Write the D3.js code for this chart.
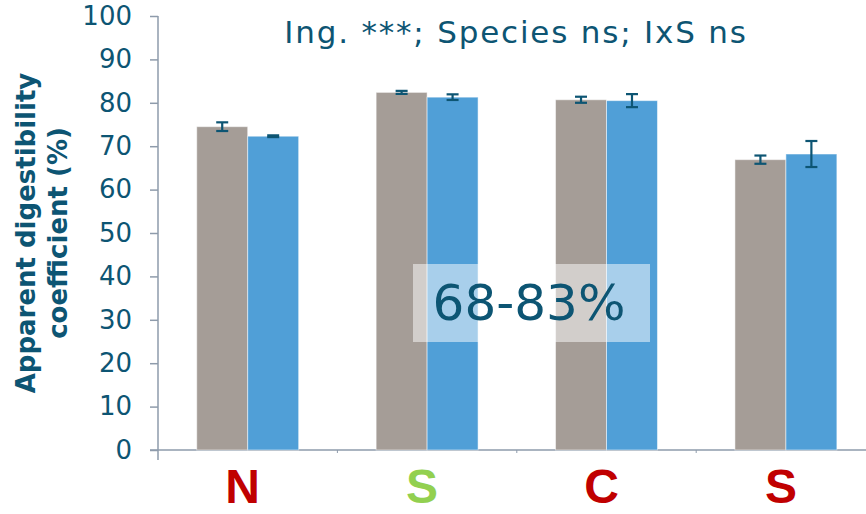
<!DOCTYPE html>
<html>
<head>
<meta charset="utf-8">
<script src="https://cdn.jsdelivr.net/npm/d3@7"></script>
<style>
  html, body { margin: 0; padding: 0; background: #fff; }
  svg { display: block; }
</style>
</head>
<body>
<svg id="chart" width="866" height="514"></svg>
<script>
// Ingredient categories along the x axis
const categories = ["N", "S", "C", "S"];
// Two species per ingredient
const series = ["Species A", "Species B"];
// Apparent digestibility coefficient (%) per category, per species
const valuesA = [74.5, 82.4, 80.7, 66.9];
const valuesB = [72.3, 81.3, 80.5, 68.2];
// Standard errors
const errorsA = [1.0, 0.35, 0.7, 0.95];
const errorsB = [0.2, 0.65, 1.5, 3.0];
// Y tick values
const yTicks = [0, 10, 20, 30, 40, 50, 60, 70, 80, 90, 100];

const title = "Ing. ***; Species ns; IxS ns";
const rangeNote = "68-83%";

const dark = "#0d5573";
const axisColor = "#8e9bab";
const seriesColors = ["#a59d97", "#509fd7"];
const labelColors = ["#c00000", "#92d050", "#c00000", "#c00000"];

const svg = d3.select("#chart");

const x = d3.scaleBand()
  .domain(d3.range(categories.length))
  .range([158, 875.6])
  .paddingInner(0).paddingOuter(0);

const xSub = d3.scaleBand()
  .domain(series)
  .range([0, x.bandwidth()])
  .paddingInner(0)
  .paddingOuter(0.76);

const y = d3.scaleLinear().domain([0, 100]).range([450, 16]);

// Y axis
const yAxis = svg.append("g")
  .attr("transform", "translate(158,0)")
  .call(d3.axisLeft(y).tickValues(yTicks).tickSize(8).tickPadding(18).tickSizeOuter(0));
yAxis.select(".domain").remove();
yAxis.selectAll(".tick line").attr("stroke", axisColor).attr("stroke-width", 1.5);
yAxis.selectAll(".tick text")
  .attr("fill", dark)
  .style("font-family", "'DejaVu Sans', Verdana, sans-serif")
  .style("font-size", "26px");
svg.append("line")
  .attr("x1", 158).attr("x2", 158)
  .attr("y1", y(100)).attr("y2", 460)
  .attr("stroke", axisColor).attr("stroke-width", 1.5);

// X axis
svg.append("line")
  .attr("x1", 150).attr("x2", 866)
  .attr("y1", y(0)).attr("y2", y(0))
  .attr("stroke", axisColor).attr("stroke-width", 1.5);
svg.append("g").selectAll("line")
  .data(d3.range(1, categories.length))
  .join("line")
  .attr("x1", i => x(i)).attr("x2", i => x(i))
  .attr("y1", y(0)).attr("y2", y(0) + 3)
  .attr("stroke", axisColor).attr("stroke-width", 1);

// Bars
const rows = categories.map((c, i) => ({
  i,
  vals: [
    { s: series[0], v: valuesA[i], e: errorsA[i], c: seriesColors[0] },
    { s: series[1], v: valuesB[i], e: errorsB[i], c: seriesColors[1] }
  ]
}));

const groups = svg.append("g").selectAll("g")
  .data(rows)
  .join("g")
  .attr("transform", d => `translate(${x(d.i)},0)`);

groups.selectAll("rect")
  .data(d => d.vals)
  .join("rect")
  .attr("x", d => xSub(d.s))
  .attr("width", xSub.bandwidth())
  .attr("y", d => y(d.v))
  .attr("height", d => y(0) - y(d.v))
  .attr("fill", d => d.c)
  .attr("stroke", "rgba(255,255,255,0.5)")
  .attr("stroke-width", 1);

// Error bars
const eb = groups.selectAll("g.err")
  .data(d => d.vals)
  .join("g")
  .attr("class", "err")
  .attr("stroke", dark)
  .attr("stroke-width", 2.2);
eb.append("line")
  .attr("x1", d => xSub(d.s) + xSub.bandwidth() / 2)
  .attr("x2", d => xSub(d.s) + xSub.bandwidth() / 2)
  .attr("y1", d => y(d.v + d.e))
  .attr("y2", d => y(d.v - d.e));
eb.selectAll("line.cap")
  .data(d => [d.v + d.e, d.v - d.e].map(v => ({ s: d.s, v })))
  .join("line")
  .attr("class", "cap")
  .attr("x1", d => xSub(d.s) + xSub.bandwidth() / 2 - 6)
  .attr("x2", d => xSub(d.s) + xSub.bandwidth() / 2 + 6)
  .attr("y1", d => y(d.v))
  .attr("y2", d => y(d.v));

// Category labels
svg.append("g").selectAll("text")
  .data(categories)
  .join("text")
  .attr("x", (d, i) => x(i) + x.bandwidth() / 2 - 5)
  .attr("y", 503)
  .attr("text-anchor", "middle")
  .attr("fill", (d, i) => labelColors[i])
  .style("font-family", "'Liberation Sans', Arial, sans-serif")
  .style("font-weight", "bold")
  .style("font-size", "48px")
  .text(d => d);

// Y axis title
const yt = svg.append("text")
  .attr("transform", "translate(0,233) rotate(-90)")
  .attr("text-anchor", "middle")
  .attr("fill", dark)
  .style("font-family", "'DejaVu Sans', Verdana, sans-serif")
  .style("font-weight", "bold")
  .style("font-size", "26px");
yt.append("tspan").attr("x", 0).attr("y", 35).text("Apparent digestibility");
yt.append("tspan").attr("x", 0).attr("y", 67).text("coefficient (%)");

// Title
svg.append("text")
  .attr("x", 516)
  .attr("y", 43)
  .attr("text-anchor", "middle")
  .attr("fill", dark)
  .style("font-family", "'DejaVu Sans', Verdana, sans-serif")
  .style("font-size", "31px")
  .style("letter-spacing", "1.8px")
  .text(title);

// Range note over the bars
svg.append("rect")
  .attr("x", 413).attr("y", 264)
  .attr("width", 237).attr("height", 78)
  .attr("fill", "#fff").attr("fill-opacity", 0.5);
svg.append("text")
  .attr("x", 529)
  .attr("y", 320)
  .attr("text-anchor", "middle")
  .attr("fill", dark)
  .style("font-family", "'DejaVu Sans', Verdana, sans-serif")
  .style("font-size", "50px")
  .text(rangeNote);
</script>
</body>
</html>
